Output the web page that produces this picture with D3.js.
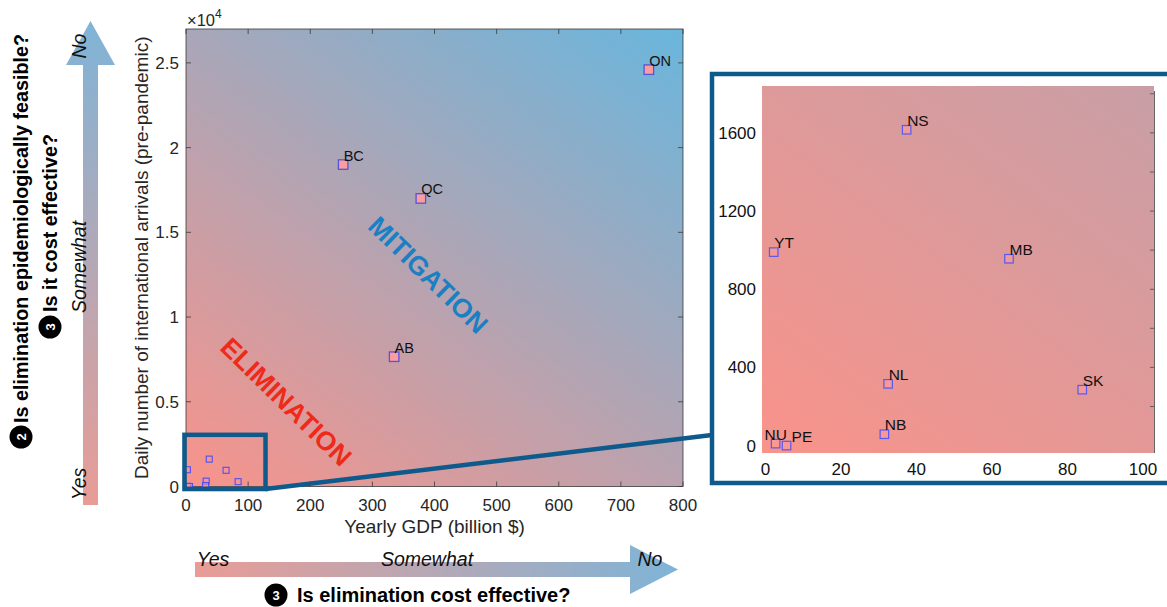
<!DOCTYPE html>
<html>
<head>
<meta charset="utf-8">
<script src="https://cdn.jsdelivr.net/npm/d3@7"></script>
<style>
  html, body { margin: 0; padding: 0; background: #fff; }
  svg { display: block; }
  text { font-family: "Liberation Sans", Arial, Helvetica, sans-serif; }
</style>
</head>
<body>
<div id="chart"></div>
<script>
// ---------------- data ----------------
const bigProvinces = ["ON", "BC", "QC", "AB"];
const bigGDP = [745, 253, 378, 335];              // billion $
const bigArrivals = [24600, 19000, 17000, 7660];  // daily international arrivals

const smallProvinces = ["NS", "YT", "MB", "NL", "SK", "NB", "NU", "PE"];
const smallGDP = [37.4, 2.2, 64.5, 32.5, 83.9, 31.5, 2.7, 5.6];
const smallArrivals = [1616, 990, 956, 316, 286, 58, 10, 0];

const mainXTicks = [0, 100, 200, 300, 400, 500, 600, 700, 800];
const mainYTicks = [0, 5000, 10000, 15000, 20000, 25000];
const insetXTicks = [0, 20, 40, 60, 80, 100];
const insetYTicks = [0, 400, 800, 1200, 1600];
const insetYMinorTicks = [200, 400, 600, 800, 1000, 1200, 1400, 1600, 1800];
const scaleLabels = ["Yes", "Somewhat", "No"];

// ---------------- setup ----------------
const W = 1167, H = 607;
const svg = d3.select("#chart").append("svg").attr("width", W).attr("height", H);
svg.append("rect").attr("width", W).attr("height", H).attr("fill", "#fff");
const defs = svg.append("defs");

const SALMON = "#f9938a", BLUE = "#69b6dd";
const FRAME = "#0f5a8c";

function diagGradient(id, L, T, R, B, a, b) {
  // colour parameter t = a*xn + b*yn (xn, yn in [0,1] measured from bottom-left)
  const w = R - L, h = B - T;
  const gx = a / w, gy = -b / h;
  const n2 = gx * gx + gy * gy;
  const g = defs.append("linearGradient").attr("id", id)
    .attr("gradientUnits", "userSpaceOnUse")
    .attr("x1", L).attr("y1", B)
    .attr("x2", L + gx / n2).attr("y2", B + gy / n2);
  g.append("stop").attr("offset", 0).attr("stop-color", SALMON);
  g.append("stop").attr("offset", 1).attr("stop-color", BLUE);
}

// ---------------- main plot ----------------
const mL = 186, mR = 683, mT = 29, mB = 486.5;
const x = d3.scaleLinear().domain([0, 800]).range([mL, mR]);
const y = d3.scaleLinear().domain([0, 27000]).range([mB, mT]);

diagGradient("gMain", mL, mT, mR, mB, 0.44, 0.56);
svg.append("rect").attr("x", mL).attr("y", mT).attr("width", mR - mL).attr("height", mB - mT)
  .attr("fill", "url(#gMain)");

// box + ticks (inward, all sides)
const axG = svg.append("g").attr("stroke", "#3a3a3a").attr("stroke-width", 0.8).attr("fill", "none");
axG.append("rect").attr("x", mL).attr("y", mT).attr("width", mR - mL).attr("height", mB - mT);
mainXTicks.forEach(v => {
  axG.append("line").attr("x1", x(v)).attr("x2", x(v)).attr("y1", mB).attr("y2", mB - 5);
  axG.append("line").attr("x1", x(v)).attr("x2", x(v)).attr("y1", mT).attr("y2", mT + 5);
});
mainYTicks.forEach(v => {
  axG.append("line").attr("x1", mL).attr("x2", mL + 5).attr("y1", y(v)).attr("y2", y(v));
  axG.append("line").attr("x1", mR).attr("x2", mR - 5).attr("y1", y(v)).attr("y2", y(v));
});

// tick labels
svg.append("g").selectAll("text").data(mainXTicks).join("text")
  .attr("x", d => x(d)).attr("y", 511).attr("text-anchor", "middle")
  .attr("font-size", 17).attr("fill", "#262626").text(d => d);
svg.append("g").selectAll("text").data(mainYTicks).join("text")
  .attr("x", mL - 7).attr("y", d => y(d) + 6).attr("text-anchor", "end")
  .attr("font-size", 17).attr("fill", "#262626").text(d => d / 10000);

const expT = svg.append("text").attr("x", mL + 1).attr("y", 26).attr("font-size", 16.5).attr("fill", "#262626");
expT.append("tspan").text("×10");
expT.append("tspan").attr("dy", -8).attr("font-size", 12).text("4");

// axis titles
svg.append("text").attr("x", (mL + mR) / 2).attr("y", 533).attr("text-anchor", "middle")
  .attr("font-size", 19).attr("fill", "#262626").text("Yearly GDP (billion $)");
svg.append("text").attr("transform", `translate(148,${(mT + mB) / 2}) rotate(-90)`)
  .attr("text-anchor", "middle").attr("font-size", 19).attr("fill", "#262626")
  .text("Daily number of international arrivals (pre-pandemic)");

// region words
svg.append("text").attr("transform", "translate(428,275) rotate(44.3)")
  .attr("text-anchor", "middle").attr("dominant-baseline", "central")
  .attr("font-size", 26.5).attr("font-weight", "bold").attr("fill", "#1b7fc3").text("MITIGATION");
svg.append("text").attr("transform", "translate(286,402) rotate(44.3)")
  .attr("text-anchor", "middle").attr("dominant-baseline", "central")
  .attr("font-size", 26.5).attr("font-weight", "bold").attr("fill", "#ee2a18").text("ELIMINATION");

// points (big provinces)
const sBig = 9.5;
svg.append("g").selectAll("rect").data(bigProvinces).join("rect")
  .attr("x", (d, i) => x(bigGDP[i]) - sBig / 2).attr("y", (d, i) => y(bigArrivals[i]) - sBig / 2)
  .attr("width", sBig).attr("height", sBig)
  .attr("fill", "#fb9d9d").attr("stroke", "#5a52d8").attr("stroke-width", 1.3);
svg.append("g").selectAll("text").data(bigProvinces).join("text")
  .attr("x", (d, i) => x(bigGDP[i]) + 0.5).attr("y", (d, i) => y(bigArrivals[i]) - 4)
  .attr("font-size", 14.5).attr("fill", "#111").text(d => d);

// points (small provinces) in main
const sSmall = 6;
svg.append("g").selectAll("rect").data(smallProvinces).join("rect")
  .attr("x", (d, i) => x(smallGDP[i]) - sSmall / 2).attr("y", (d, i) => y(smallArrivals[i]) - sSmall / 2)
  .attr("width", sSmall).attr("height", sSmall)
  .attr("fill", "rgba(250,150,150,0.5)").attr("stroke", "#5050f0").attr("stroke-width", 1.1);

// zoom box and connector
const zx0 = x(-2.5), zx1 = x(128), zy0 = y(3050), zy1 = y(-150);
svg.append("line").attr("x1", zx1).attr("y1", zy1).attr("x2", 712).attr("y2", 435)
  .attr("stroke", FRAME).attr("stroke-width", 4.5);
svg.append("rect").attr("x", zx0).attr("y", zy0).attr("width", zx1 - zx0).attr("height", zy1 - zy0)
  .attr("fill", "none").attr("stroke", FRAME).attr("stroke-width", 4.5);

// ---------------- inset ----------------
svg.append("rect").attr("x", 712).attr("y", 74).attr("width", 520).attr("height", 409)
  .attr("fill", "#fff").attr("stroke", FRAME).attr("stroke-width", 4.5);

const iL = 762, iR = 1154, iT = 86, iB = 453;
const xi = d3.scaleLinear().domain([-0.9, 102.9]).range([iL, iR]);
const yi = d3.scaleLinear().domain([-38, 1840]).range([iB, iT]);

// inset background: same colour ramp, reaching only about a third of the way at top-right
diagGradient("gInset", iL, iT, iR, iB, 0.15, 0.19);
svg.append("rect").attr("x", iL).attr("y", iT).attr("width", iR - iL).attr("height", iB - iT)
  .attr("fill", "url(#gInset)");

const iax = svg.append("g").attr("stroke", "#555").attr("stroke-width", 0.9);
iax.append("line").attr("x1", iR + 0.5).attr("x2", iR + 0.5).attr("y1", 91).attr("y2", iB);
insetYMinorTicks.forEach(v => {
  iax.append("line").attr("x1", iR).attr("x2", iR - 4).attr("y1", yi(v)).attr("y2", yi(v));
});

svg.append("g").selectAll("text").data(insetXTicks).join("text")
  .attr("x", d => xi(d)).attr("y", 475).attr("text-anchor", "middle")
  .attr("font-size", 17).attr("fill", "#111").text(d => d);
svg.append("g").selectAll("text").data(insetYTicks).join("text")
  .attr("x", iL - 6).attr("y", d => yi(d) + 6).attr("text-anchor", "end")
  .attr("font-size", 17).attr("fill", "#111").text(d => d);

const sIn = 8.5;
svg.append("g").selectAll("rect").data(smallProvinces).join("rect")
  .attr("x", (d, i) => xi(smallGDP[i]) - sIn / 2).attr("y", (d, i) => yi(smallArrivals[i]) - sIn / 2)
  .attr("width", sIn).attr("height", sIn)
  .attr("fill", "rgba(252,155,155,0.6)").attr("stroke", "#5858f2").attr("stroke-width", 1.2);
const nudge = { NU: -11, PE: 5 };
svg.append("g").selectAll("text").data(smallProvinces).join("text")
  .attr("x", (d, i) => xi(smallGDP[i]) + (nudge[d] || 0.5))
  .attr("y", (d, i) => yi(smallArrivals[i]) - 4)
  .attr("font-size", 15.5).attr("fill", "#111").text(d => d);

// ---------------- annotation arrows ----------------
const ARW0 = "#e99c95", ARW1 = "#7fb4d7";
const gv = defs.append("linearGradient").attr("id", "gArrV").attr("gradientUnits", "userSpaceOnUse")
  .attr("x1", 0).attr("y1", 505).attr("x2", 0).attr("y2", 20);
gv.append("stop").attr("offset", 0).attr("stop-color", ARW0);
gv.append("stop").attr("offset", 1).attr("stop-color", ARW1);
const gh = defs.append("linearGradient").attr("id", "gArrH").attr("gradientUnits", "userSpaceOnUse")
  .attr("x1", 195).attr("y1", 0).attr("x2", 678).attr("y2", 0);
gh.append("stop").attr("offset", 0).attr("stop-color", ARW0);
gh.append("stop").attr("offset", 1).attr("stop-color", ARW1);

// vertical arrow
svg.append("path").attr("d", "M83,505 L83,65 L66,65 L90.5,21 L115,65 L98,65 L98,505 Z")
  .attr("fill", "url(#gArrV)");
const vPos = [484, 267, 46];
scaleLabels.forEach((t, i) => {
  svg.append("text").attr("transform", `translate(86,${vPos[i]}) rotate(-90)`)
    .attr("text-anchor", "middle").attr("font-size", 19.5).attr("font-style", "italic")
    .attr("fill", "#111").text(t);
});

// horizontal arrow
svg.append("path").attr("d", "M195,562 L630,562 L630,545 L678,569.5 L630,594 L630,577 L195,577 Z")
  .attr("fill", "url(#gArrH)");
const hPos = [213, 427, 650];
scaleLabels.forEach((t, i) => {
  svg.append("text").attr("x", hPos[i]).attr("y", 566)
    .attr("text-anchor", "middle").attr("font-size", 19.5).attr("font-style", "italic")
    .attr("fill", "#111").text(t);
});

// numbered questions
function badge(cx, cy, n, rot) {
  svg.append("circle").attr("cx", cx).attr("cy", cy).attr("r", 11.5).attr("fill", "#000");
  svg.append("text").attr("transform", `translate(${cx},${cy}) rotate(${rot})`)
    .attr("text-anchor", "middle").attr("dominant-baseline", "central")
    .attr("font-size", 13).attr("font-weight", "bold").attr("fill", "#fff").text(n);
}
badge(21, 437, "2", -90);
svg.append("text").attr("transform", "translate(28,423) rotate(-90)")
  .attr("font-size", 19.8).attr("font-weight", "bold").attr("fill", "#000")
  .text("Is elimination epidemiologically feasible?");
badge(50, 327, "3", -90);
svg.append("text").attr("transform", "translate(57,312) rotate(-90)")
  .attr("font-size", 19.8).attr("font-weight", "bold").attr("fill", "#000")
  .text("Is it cost effective?");
badge(276, 595, "3", 0);
svg.append("text").attr("x", 297).attr("y", 602)
  .attr("font-size", 20).attr("font-weight", "bold").attr("fill", "#000")
  .text("Is elimination cost effective?");
</script>
</body>
</html>
